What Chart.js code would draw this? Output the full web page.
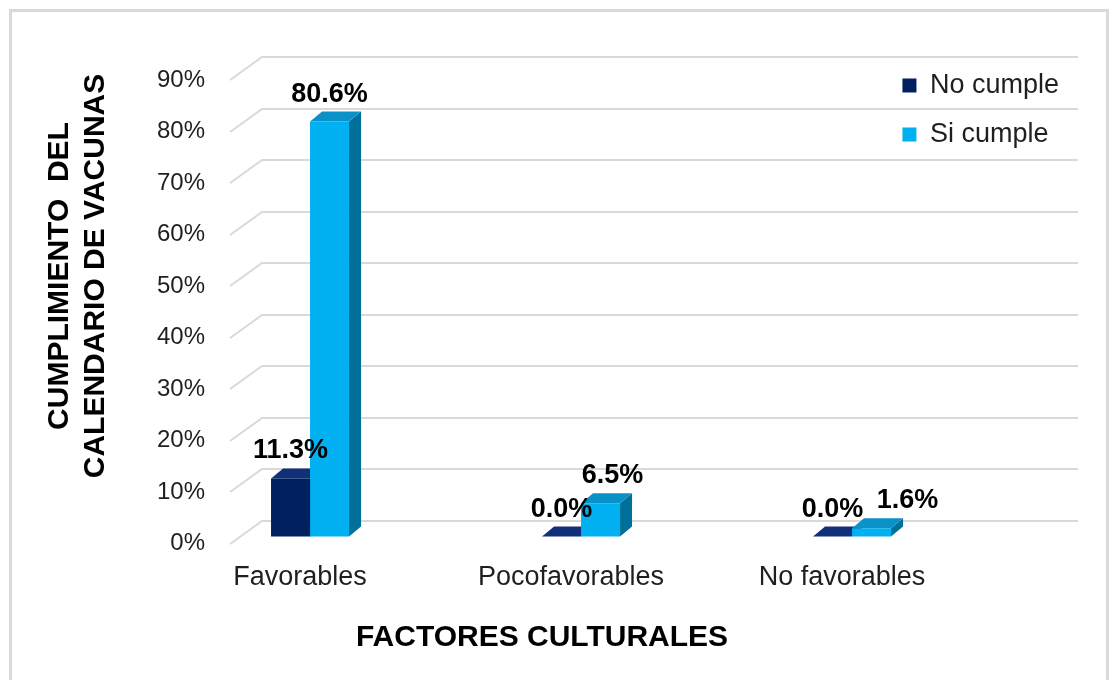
<!DOCTYPE html>
<html><head><meta charset="utf-8">
<script src="https://cdn.jsdelivr.net/npm/chart.js@4.4.0/dist/chart.umd.min.js"></script>
<style>
html,body{margin:0;padding:0;background:#fff;}
#wrap{position:relative;width:1118px;height:680px;overflow:hidden;background:#fff;}
#frame{position:absolute;left:9px;top:9px;width:1094px;height:700px;border:3px solid #d9d9d9;pointer-events:none;}
canvas{position:absolute;left:0;top:0;}
</style></head><body>
<div id="wrap"><canvas id="c" width="1118" height="680"></canvas><div id="frame"></div></div>
<script>
// ---- data ----
const categories = ['Favorables', 'Pocofavorables', 'No favorables'];
const seriesNames = ['No cumple', 'Si cumple'];
const noCumple = [11.3, 0.0, 0.0];
const siCumple = [80.6, 6.5, 1.6];
const yTicks = [0, 10, 20, 30, 40, 50, 60, 70, 80, 90];
const yTitle = ['CUMPLIMIENTO  DEL', 'CALENDARIO DE VACUNAS'];
const xTitle = 'FACTORES CULTURALES';

// ---- style ----
const FONT = '"Liberation Sans", Arial, Helvetica, sans-serif';
const frontColors = ['#002060', '#00b0f0'];
const topColors = ['#12307a', '#0a92c8'];
const sideColors = ['#001540', '#006f99'];
const WALL_DX = 32, WALL_DY = 23;   // back wall offset
const FLOOR_DX = 10, FLOOR_DY = 7;  // bar row offset
const BAR_DX = 12, BAR_DY = 10;     // bar depth
const CAT_PX = 271;                 // category spacing in px
const FIRST_CAT_OFFSET = 70;        // px from plot left to first category
const LABEL_SHIFT = [[0, 0, 0], [0, 12, 36]];
Chart.defaults.font.family = FONT;

function fixXRange(scale) {
  scale.min = -FIRST_CAT_OFFSET / CAT_PX;
  scale.max = scale.min + scale.width / CAT_PX;
}

const threeD = {
  id: 'threeD',
  beforeDraw(chart) {
    const {ctx, chartArea, scales: {y}} = chart;
    ctx.save();
    ctx.strokeStyle = '#d9d9d9';
    ctx.lineWidth = 2;
    const xEnd = chart.width - 40;
    y.ticks.forEach(t => {
      const py = Math.round(y.getPixelForValue(t.value));
      ctx.beginPath();
      ctx.moveTo(chartArea.left, py);
      ctx.lineTo(chartArea.left + WALL_DX, py - WALL_DY);
      ctx.lineTo(xEnd, py - WALL_DY);
      ctx.stroke();
    });
    ctx.restore();
  },
  beforeDatasetsDraw(chart) {
    const ctx = chart.ctx;
    ctx.save();
    ctx.translate(FLOOR_DX, -FLOOR_DY);
    chart.data.datasets.forEach((ds, di) => {
      chart.getDatasetMeta(di).data.forEach(bar => {
        const {x, y, base, width} = bar.getProps(['x', 'y', 'base', 'width'], true);
        const l = x - width / 2, r = x + width / 2;
        ctx.fillStyle = sideColors[di];
        ctx.beginPath();
        ctx.moveTo(r, y); ctx.lineTo(r + BAR_DX, y - BAR_DY);
        ctx.lineTo(r + BAR_DX, base - BAR_DY); ctx.lineTo(r, base);
        ctx.closePath(); ctx.fill();
        ctx.fillStyle = topColors[di];
        ctx.beginPath();
        ctx.moveTo(l, y); ctx.lineTo(l + BAR_DX, y - BAR_DY);
        ctx.lineTo(r + BAR_DX, y - BAR_DY); ctx.lineTo(r, y);
        ctx.closePath(); ctx.fill();
      });
    });
  },
  afterDatasetsDraw(chart) {
    const ctx = chart.ctx;
    ctx.restore();
    ctx.save();
    ctx.font = 'bold 27px ' + FONT;
    ctx.fillStyle = '#000';
    ctx.textAlign = 'center';
    ctx.textBaseline = 'alphabetic';
    chart.data.datasets.forEach((ds, di) => {
      chart.getDatasetMeta(di).data.forEach((bar, i) => {
        const v = ds.data[i].y;
        ctx.fillText(v.toFixed(1) + '%', bar.x + FLOOR_DX + LABEL_SHIFT[di][i], bar.y - FLOOR_DY - BAR_DY - 10);
      });
    });
    ctx.restore();
  },
  afterDraw(chart) {
    const ctx = chart.ctx;
    ctx.save();
    ctx.fillStyle = '#000';
    ctx.font = 'bold 30px ' + FONT;
    ctx.textAlign = 'center';
    ctx.textBaseline = 'middle';
    ctx.translate(60, 276);
    ctx.rotate(-Math.PI / 2);
    ctx.fillText(yTitle[0], 0, 0);
    ctx.fillText(yTitle[1], 0, 36);
    ctx.restore();
    ctx.save();
    ctx.fillStyle = '#000';
    ctx.font = 'bold 30px ' + FONT;
    ctx.textAlign = 'center';
    ctx.textBaseline = 'middle';
    ctx.fillText(xTitle, 542, 638);
    ctx.restore();
  }
};

new Chart(document.getElementById('c'), {
  type: 'bar',
  data: {
    datasets: [
      {label: seriesNames[0], data: noCumple.map((v, i) => ({x: i, y: v})), backgroundColor: frontColors[0], borderWidth: 0, clip: false},
      {label: seriesNames[1], data: siCumple.map((v, i) => ({x: i, y: v})), backgroundColor: frontColors[1], borderWidth: 0, clip: false}
    ]
  },
  options: {
    responsive: false,
    animation: false,
    devicePixelRatio: 1,
    categoryPercentage: 78 / 271,
    barPercentage: 1,
    layout: {padding: {left: 132, right: 49, top: 50, bottom: 68}},
    scales: {
      x: {
        type: 'linear',
        bounds: 'data',
        offset: false,
        afterSetDimensions: fixXRange,
        afterDataLimits: fixXRange,
        afterBuildTicks(scale) {
          scale.ticks = categories.map((c, i) => ({value: i}));
        },
        grid: {display: false, drawTicks: false, offset: false},
        border: {display: false},
        ticks: {
          autoSkip: false, maxRotation: 0, minRotation: 0, padding: 18,
          font: {size: 27}, color: '#1f1f1f',
          callback: (v) => categories[v]
        }
      },
      y: {
        type: 'linear',
        min: 0,
        max: 95.87,
        afterBuildTicks(scale) {
          scale.ticks = yTicks.map(v => ({value: v}));
        },
        grid: {display: false, drawTicks: false},
        border: {display: false},
        ticks: {padding: 25, font: {size: 24}, color: '#1f1f1f', callback: (v) => v + '%'}
      }
    },
    plugins: {
      legend: {
        position: 'right',
        align: 'start',
        labels: {boxWidth: 14, boxHeight: 14, padding: 22, font: {size: 27}, color: '#1f1f1f'}
      },
      tooltip: {enabled: false}
    }
  },
  plugins: [threeD]
});
</script>
</body></html>
